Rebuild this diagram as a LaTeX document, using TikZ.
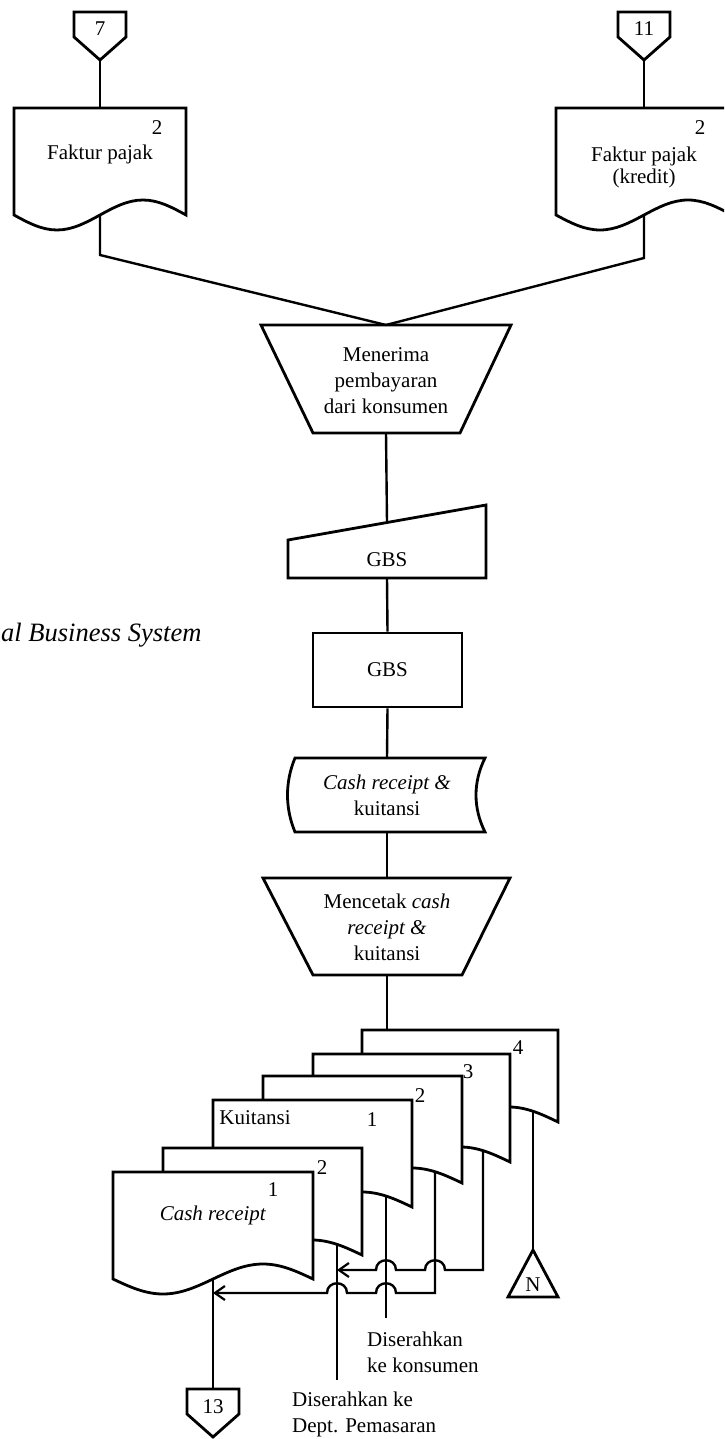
\documentclass[tikz,border=0pt]{standalone}
\usepackage{fontspec}
\setmainfont{Liberation Serif}
\usetikzlibrary{arrows.meta}

\newcommand\dfont{\fontsize{21}{26}\selectfont}
\newcommand\capfont{\fontsize{26.5}{30}\selectfont}

\tikzset{
  flowline/.style={line width=2.4pt},
  boxline/.style={line width=2.8pt, line join=miter, fill=white},
  txt/.style={font=\dfont, inner sep=0pt, align=center},
  barb/.style={-{Straight Barb[length=10pt,width=14pt,line width=2.2pt]}},
}

% document symbol: left, top, width, side height
\newcommand\docshape[4]{%
  \draw[boxline] (#1,#2) -- ({#1+#3},#2) -- ({#1+#3},{#2+#4})
    sin ({#1+0.75*#3},{#2+#4-15}) cos ({#1+0.5*#3},{#2+#4})
    sin ({#1+0.25*#3},{#2+#4+15}) cos (#1,{#2+#4}) -- cycle;}

% off-page connector: centre x, top y
\newcommand\offpage[2]{%
  \draw[boxline] ({#1-26},#2) -- ({#1+26},#2) -- ({#1+26},{#2+25})
    -- (#1,{#2+48}) -- ({#1-26},{#2+25}) -- cycle;}

\begin{document}
\begin{tikzpicture}[x=1pt,y=-1pt]
\useasboundingbox (0,0) rectangle (724,1439);
\clip (0,0) rectangle (724,1439);

% running caption at the left margin
\node[font=\capfont\itshape, anchor=base west, inner sep=0pt] (caption) at (1,641) {al Business System};

% ---------- incoming connectors and tax invoices ----------
\offpage{100}{12}
\node[txt] (in7) at (100,29) {7};
\coordinate (in7-tip) at (100,60);
\offpage{644}{12}
\node[txt] (in11) at (644,29) {11};
\coordinate (in11-tip) at (644,60);

\docshape{14}{108}{172}{107}
\node[txt] (fp1) at (100,154) {Faktur pajak};
\node[txt] (fp1n) at (157,128) {2};
\coordinate (fp1-top) at (100,108);
\coordinate (fp1-bot) at (100,215);
\coordinate (fp1-bend) at (100,255);

\docshape{556}{108}{176}{107}
\node[txt] (fp2) at (644,167) {Faktur pajak\\[-4pt](kredit)};
\node[txt] (fp2n) at (700,128) {2};
\coordinate (fp2-top) at (644,108);
\coordinate (fp2-bot) at (644,215);
\coordinate (fp2-bend) at (644,258);

% ---------- receiving payment ----------
\draw[boxline] (261,325) -- (511,325) -- (460,433) -- (313,433) -- cycle;
\node[txt] (recv) at (386,381) {Menerima\\pembayaran\\dari konsumen};
\coordinate (recv-top) at (386,325);
\coordinate (recv-bot) at (386,433);

\draw[flowline] (in7-tip) -- (fp1-top);
\draw[flowline] (in11-tip) -- (fp2-top);
\draw[flowline] (fp1-bot) -- (fp1-bend) -- (recv-top);
\draw[flowline] (fp2-bot) -- (fp2-bend) -- (recv-top);

% ---------- GBS entry and processing ----------
\draw[boxline] (288,540) -- (486,505) -- (486,578) -- (288,578) -- cycle;
\node[txt] (gbsin) at (387,560) {GBS};
\coordinate (gbsin-top) at (387,522.5);
\coordinate (gbsin-bot) at (387,578);

\node[draw, boxline, minimum width=149pt, minimum height=74pt, font=\dfont, inner sep=0pt] (gbs) at (387.5,670) {GBS};

\draw[boxline] (295,758) -- (485,758) .. controls (473,782) and (473,808) .. (485,832)
  -- (295,832) .. controls (285,808) and (285,782) .. (295,758) -- cycle;
\node[txt] (store) at (387,795) {\textit{Cash receipt \&}\\kuitansi};
\coordinate (store-top) at (387,758);
\coordinate (store-bot) at (387,832);

\draw[boxline] (263,878) -- (510,878) -- (462,975) -- (313,975) -- cycle;
\node[txt] (print) at (387,927) {Mencetak \textit{cash}\\\textit{receipt \&}\\kuitansi};
\coordinate (print-top) at (387,878);
\coordinate (print-bot) at (387,975);

\draw[flowline] (recv-bot) -- (gbsin-top);
\draw[flowline] (gbsin-bot) -- (gbs.north);
\draw[flowline] (gbs.south) -- (store-top);
\draw[flowline] (store-bot) -- (print-top);

% ---------- printed copies ----------
\docshape{362}{1030}{196}{92}
\docshape{313}{1054}{197}{108}
\docshape{263}{1076}{199}{107}
\docshape{213}{1100}{199}{107}
\docshape{163}{1148}{199}{107}
\docshape{113}{1172}{200}{107}
\coordinate (docA-top) at (387,1030);
\draw[flowline] (print-bot) -- (docA-top);

\node[txt] (nA) at (518,1048) {4};
\node[txt] (nB) at (468,1072) {3};
\node[txt] (nC) at (420,1096) {2};
\node[txt] (kuit) at (255,1118) {Kuitansi};
\node[txt] (nD) at (372,1120) {1};
\node[txt] (nE) at (322,1168) {2};
\node[txt] (nF) at (273,1190) {1};
\node[txt] (cashr) at (213,1215) {\textit{Cash receipt}};

\coordinate (docA-out) at (533,1111);
\coordinate (docB-out) at (483,1151);
\coordinate (docC-out) at (435,1172);
\coordinate (docD-out) at (386,1196);
\coordinate (docE-out) at (337,1244);
\coordinate (docF-out) at (213,1279);

\coordinate (docB-turn) at (483,1270);
\coordinate (docE-join) at (337,1270);
\coordinate (docC-turn) at (435,1293);
\coordinate (docF-join) at (213,1293);
\coordinate (hopB1) at (docC-out |- docE-join);
\coordinate (hopB2) at (docD-out |- docE-join);
\coordinate (hopC1) at (docD-out |- docF-join);
\coordinate (hopC2) at (docE-out |- docF-join);

\coordinate (cust-end) at (386,1318);
\coordinate (mkt-end) at (337,1380);

% file marker and outgoing connector
\draw[boxline] (533,1250) -- (558,1297) -- (508,1297) -- cycle;
\node[txt] (fileN) at (533,1285) {N};
\coordinate (fileN-top) at (533,1250);

\offpage{213}{1389}
\node[txt] (out13) at (213,1407) {13};
\coordinate (out13-top) at (213,1389);

\draw[flowline] (docA-out) -- (fileN-top);
\draw[flowline] (docD-out) -- (cust-end);
\draw[flowline] (docE-out) -- (mkt-end);
\draw[flowline] (docF-out) -- (out13-top);

\draw[flowline, barb] (docB-out) -- (docB-turn)
  -- ([xshift=10pt]hopB1) .. controls ([shift={(10,-13)}]hopB1) and ([shift={(-10,-13)}]hopB1) .. ([xshift=-10pt]hopB1)
  -- ([xshift=10pt]hopB2) .. controls ([shift={(10,-13)}]hopB2) and ([shift={(-10,-13)}]hopB2) .. ([xshift=-10pt]hopB2)
  -- (docE-join);
\draw[flowline, barb] (docC-out) -- (docC-turn)
  -- ([xshift=10pt]hopC1) .. controls ([shift={(10,-13)}]hopC1) and ([shift={(-10,-13)}]hopC1) .. ([xshift=-10pt]hopC1)
  -- ([xshift=10pt]hopC2) .. controls ([shift={(10,-13)}]hopC2) and ([shift={(-10,-13)}]hopC2) .. ([xshift=-10pt]hopC2)
  -- (docF-join);

\node[txt, anchor=west, align=left] (cust) at (367,1352) {Diserahkan\\ke konsumen};
\node[txt, anchor=west, align=left] (mkt) at (292,1414) {Diserahkan ke\\Dept. Pemasaran};

\end{tikzpicture}
\end{document}
